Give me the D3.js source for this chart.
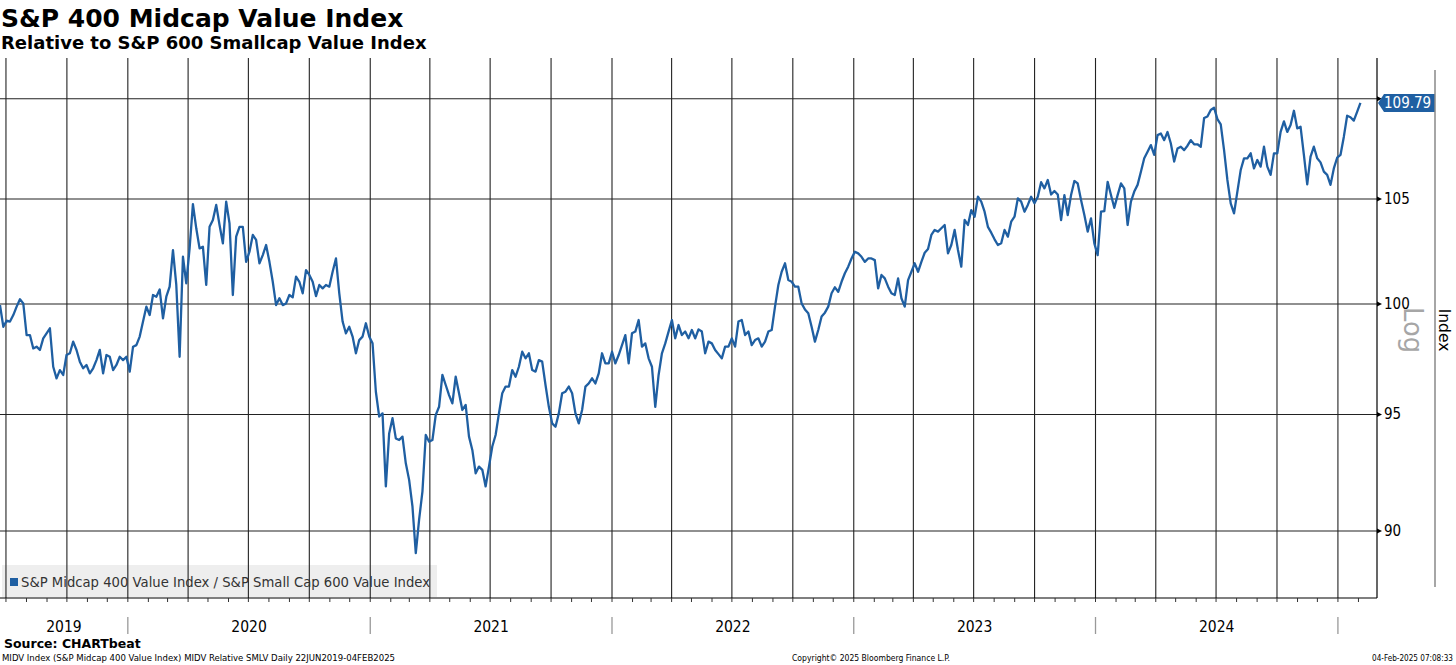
<!DOCTYPE html>
<html>
<head>
<meta charset="utf-8">
<script src="https://cdn.jsdelivr.net/npm/d3@7"></script>
<style>
body { margin: 0; background: #fff; }
svg { display: block; font-family: "DejaVu Sans", Verdana, sans-serif; }
</style>
</head>
<body>
<svg id="chart" width="1456" height="665"></svg>
<script>
// series: S&P 400 Midcap Value / S&P 600 Smallcap Value, evenly sampled from startDate to endDate
var startDate = "2019-06-22", endDate = "2025-02-04";
var axisStart = "2019-06-22", axisEnd = "2025-03-01";
var ratioValues = [
    99.95, 98.95, 99.23, 99.19, 99.49, 99.88, 100.22, 100.03, 98.57, 98.57,
    97.96, 98.04, 97.89, 98.42, 98.65, 98.88, 97.13, 96.61, 96.98, 96.76,
    97.66, 97.74, 98.27, 97.89, 97.36, 97.06, 97.21, 96.83, 97.06, 97.43,
    97.89, 96.83, 97.66, 97.58, 96.98, 97.21, 97.58, 97.43, 97.58, 96.91,
    98.04, 98.11, 98.50, 99.19, 99.88, 99.49, 100.42, 100.34, 100.68, 99.34,
    100.34, 100.81, 102.54, 100.89, 97.58, 102.22, 100.97, 102.62, 104.75, 103.58,
    102.62, 102.70, 100.89, 103.65, 103.98, 104.71, 103.74, 102.86, 104.87, 103.82,
    100.42, 103.18, 103.65, 103.65, 101.98, 102.46, 103.26, 103.02, 101.91, 102.30,
    102.78, 101.98, 101.04, 99.95, 100.27, 99.95, 100.03, 100.42, 100.31, 101.28,
    101.04, 100.50, 101.59, 101.36, 101.04, 100.37, 100.89, 100.73, 100.89, 100.81,
    101.51, 102.14, 100.50, 99.19, 98.65, 98.95, 98.50, 97.74, 98.34, 98.50,
    99.11, 98.50, 98.19, 96.01, 94.91, 95.05, 91.88, 94.17, 94.84, 93.95,
    93.88, 94.03, 92.87, 92.16, 91.03, 89.08, 90.47, 91.66, 94.10, 93.81,
    93.88, 94.98, 95.34, 96.76, 96.31, 95.86, 95.49, 96.68, 95.94, 95.20,
    95.42, 94.03, 93.45, 92.44, 92.73, 92.59, 91.88, 92.73, 93.60, 94.10,
    95.05, 95.94, 96.24, 96.24, 96.98, 96.68, 97.13, 97.81, 97.51, 97.74,
    96.98, 96.91, 97.43, 97.36, 96.31, 95.34, 94.61, 94.46, 95.05, 95.94,
    96.01, 96.24, 95.94, 95.05, 94.61, 95.20, 96.24, 96.38, 96.61, 96.38,
    96.83, 97.74, 97.28, 97.28, 97.81, 97.28, 97.66, 98.11, 98.57, 97.28,
    98.65, 98.73, 99.26, 98.04, 98.19, 97.51, 97.13, 95.34, 96.76, 97.74,
    98.19, 98.73, 99.26, 98.42, 99.03, 98.57, 98.73, 98.42, 98.80, 98.42,
    98.83, 98.73, 97.74, 98.27, 98.19, 97.89, 97.70, 97.51, 98.04, 98.04,
    98.42, 98.04, 99.19, 99.26, 98.57, 98.73, 98.11, 98.34, 98.42, 98.04,
    98.27, 98.73, 98.80, 99.88, 100.89, 101.51, 101.91, 101.12, 101.04, 100.81,
    100.81, 100.03, 99.75, 99.57, 98.95, 98.27, 98.80, 99.42, 99.60, 99.88,
    100.50, 100.78, 100.57, 101.04, 101.44, 101.75, 102.14, 102.46, 102.38, 102.22,
    101.98, 102.14, 102.14, 102.06, 100.73, 101.36, 101.20, 100.81, 100.50, 100.42,
    101.20, 100.27, 99.88, 101.12, 101.51, 101.91, 101.51, 101.98, 102.41, 102.59,
    103.26, 103.50, 103.42, 103.58, 103.74, 102.38, 102.78, 103.50, 102.54, 101.75,
    103.98, 103.74, 104.46, 104.14, 105.11, 104.87, 104.38, 103.65, 103.37, 103.05,
    102.78, 102.86, 103.50, 103.18, 103.90, 104.14, 105.03, 104.87, 104.38, 104.71,
    105.11, 104.79, 105.11, 105.82, 105.52, 105.93, 105.22, 105.39, 105.22, 103.98,
    105.19, 104.22, 105.19, 105.88, 105.76, 104.95, 104.22, 103.42, 104.06, 102.86,
    102.30, 104.38, 104.41, 105.84, 105.19, 104.57, 105.19, 105.76, 105.52, 103.74,
    104.87, 105.36, 105.69, 106.34, 107.00, 107.33, 107.66, 107.17, 108.16, 108.24,
    107.91, 108.32, 107.74, 106.84, 107.49, 107.58, 107.41, 107.63, 107.91, 107.70,
    107.70, 107.58, 109.02, 109.10, 109.43, 109.55, 108.97, 108.70, 107.41, 105.93,
    104.79, 104.30, 105.36, 106.42, 107.00, 107.00, 107.25, 106.50, 106.92, 106.59,
    107.58, 106.59, 106.18, 107.25, 107.25, 108.32, 108.85, 108.32, 108.67, 109.39,
    108.50, 108.58, 107.17, 105.72, 107.09, 107.58, 107.00, 106.80, 106.34, 106.18,
    105.69, 106.50, 107.03, 107.17, 108.07, 109.14, 109.06, 108.89, 109.33, 109.79
];
var yTicks = [90, 95, 100, 105, 110];
var yDomain = [87.24, 112.0];
var yearLabels = ["2019", "2020", "2021", "2022", "2023", "2024"];
var lastLabel = "109.79";

var titleText = "S&P 400 Midcap Value Index";
var subtitleText = "Relative to S&P 600 Smallcap Value Index";
var legendText = "S&P Midcap 400 Value Index / S&P Small Cap 600 Value Index";
var sourceText = "Source: CHARTbeat";
var footLeft = "MIDV Index (S&P Midcap 400 Value Index) MIDV Relative SMLV  Daily 22JUN2019-04FEB2025";
var footMid = "Copyright\u00a9 2025 Bloomberg Finance L.P.";
var footRight = "04-Feb-2025 07:08:33";

var lineColor = "#1f5fa2";
var plot = {left: 0, right: 1377, top: 60, bottom: 598};
var narrow = "'DejaVu Sans Condensed', 'DejaVu Sans', sans-serif";

var svg = d3.select("#chart");
var parseDay = d3.utcParse("%Y-%m-%d");

var x = d3.scaleUtc()
    .domain([parseDay(axisStart), parseDay(axisEnd)])
    .range([plot.left, plot.right]);
var y = d3.scaleLog()
    .domain(yDomain)
    .range([plot.bottom, plot.top]);

var t0 = parseDay(startDate), t1 = parseDay(endDate);
var series = ratioValues.map(function(v, i) {
    return {date: new Date(+t0 + (t1 - t0) * i / (ratioValues.length - 1)), value: v};
});

// ---- titles
svg.append("text").attr("x", 1).attr("y", 27)
    .style("font-weight", "bold").style("font-size", "25px").text(titleText);
svg.append("text").attr("x", 1).attr("y", 49)
    .style("font-weight", "bold").style("font-size", "18px").text(subtitleText);

// ---- legend box (under the grid)
svg.append("rect").attr("x", 2).attr("y", 565).attr("width", 435).attr("height", 32)
    .attr("fill", "#eeeeee");

// ---- grid
var quarters = d3.utcMonth.every(3).range(x.domain()[0], x.domain()[1]);
svg.append("g").selectAll("line").data(quarters).join("line")
    .attr("x1", function(d) { return x(d); }).attr("x2", function(d) { return x(d); })
    .attr("y1", plot.top - 2).attr("y2", plot.bottom)
    .attr("stroke", "#222").attr("stroke-width", 1.1);

svg.append("g").selectAll("line").data(yTicks).join("line")
    .attr("x1", plot.left).attr("x2", plot.right)
    .attr("y1", function(d) { return y(d); }).attr("y2", function(d) { return y(d); })
    .attr("stroke", "#222").attr("stroke-width", 1.1);

// ---- axes
svg.append("line").attr("x1", plot.right).attr("x2", plot.right)
    .attr("y1", plot.top - 2).attr("y2", plot.bottom)
    .attr("stroke", "#000").attr("stroke-width", 1.2);
svg.append("line").attr("x1", plot.left).attr("x2", plot.right)
    .attr("y1", plot.bottom).attr("y2", plot.bottom)
    .attr("stroke", "#000").attr("stroke-width", 1.2);

var months = d3.utcMonth.range(x.domain()[0], x.domain()[1]);
svg.append("g").selectAll("line").data(months).join("line")
    .attr("x1", function(d) { return x(d); }).attr("x2", function(d) { return x(d); })
    .attr("y1", plot.bottom).attr("y2", plot.bottom + 4)
    .attr("stroke", "#333").attr("stroke-width", 1);

// year separators + labels
var years = d3.utcYear.range(x.domain()[0], x.domain()[1]);
svg.append("g").selectAll("line").data(years).join("line")
    .attr("x1", function(d) { return x(d); }).attr("x2", function(d) { return x(d); })
    .attr("y1", 617).attr("y2", 634)
    .attr("stroke", "#999").attr("stroke-width", 1.3);

svg.append("g").selectAll("text").data(yearLabels).join("text")
    .attr("x", function(d) {
        var a = Math.max(+x.domain()[0], Date.UTC(+d, 0, 1));
        var b = Math.min(+x.domain()[1], Date.UTC(+d + 1, 0, 1));
        return (x(new Date(a)) + x(new Date(b))) / 2;
    })
    .attr("y", 632)
    .attr("text-anchor", "middle")
    .style("font-family", narrow).style("font-size", "15.5px")
    .text(function(d) { return d; });

// right axis tick markers + labels
var yTickMarks = svg.append("g");
yTickMarks.selectAll("path").data(yTicks).join("path")
    .attr("d", function(d) {
        var yy = y(d);
        return "M" + plot.right + "," + (yy - 2.5) + "L" + (plot.right + 5) + "," + yy + "L" + plot.right + "," + (yy + 2.5) + "Z";
    })
    .attr("fill", "#000");
yTickMarks.selectAll("text").data(yTicks.filter(function(d) { return d < 110; })).join("text")
    .attr("x", plot.right + 7).attr("y", function(d) { return y(d) + 5; })
    .style("font-family", narrow).style("font-size", "15px")
    .text(function(d) { return d; });

// ---- data line
var line = d3.line()
    .x(function(d) { return x(d.date); })
    .y(function(d) { return y(d.value); });
svg.append("path").datum(series)
    .attr("d", line)
    .attr("fill", "none")
    .attr("stroke", lineColor)
    .attr("stroke-width", 2.3)
    .attr("stroke-linejoin", "round");

// last value tag
var lastY = y(series[series.length - 1].value);
svg.append("path")
    .attr("d", "M" + (plot.right + 1) + "," + lastY +
        "L" + (plot.right + 7) + "," + (lastY - 9) +
        "L1435," + (lastY - 9) + "L1435," + (lastY + 9) +
        "L" + (plot.right + 7) + "," + (lastY + 9) + "Z")
    .attr("fill", lineColor);
svg.append("text").attr("x", plot.right + 7).attr("y", lastY + 5.5)
    .attr("fill", "#fff")
    .style("font-family", narrow).style("font-size", "15px")
    .text(lastLabel);

// right-side decorations
svg.append("line").attr("x1", 1435).attr("x2", 1435).attr("y1", 70).attr("y2", 587)
    .attr("stroke", "#888").attr("stroke-width", 1.5);
svg.append("text").attr("transform", "translate(1404,330) rotate(90)")
    .attr("text-anchor", "middle").attr("fill", "#a6a6a6")
    .style("font-size", "27px").attr("textLength", 46).attr("lengthAdjust", "spacingAndGlyphs")
    .text("Log");
svg.append("text").attr("transform", "translate(1439,330) rotate(90)")
    .attr("text-anchor", "middle").attr("fill", "#000")
    .style("font-size", "15.5px")
    .text("Index");

// legend content
svg.append("rect").attr("x", 10).attr("y", 578).attr("width", 8).attr("height", 8)
    .attr("fill", lineColor);
svg.append("text").attr("x", 21).attr("y", 587)
    .attr("fill", "#333").style("font-size", "13.5px")
    .attr("textLength", 409).attr("lengthAdjust", "spacingAndGlyphs")
    .text(legendText);

// ---- footer
svg.append("text").attr("x", 4).attr("y", 648)
    .style("font-weight", "bold").style("font-size", "12.5px").text(sourceText);
svg.append("text").attr("x", 2).attr("y", 661)
    .style("font-family", narrow).style("font-size", "8.5px")
    .attr("textLength", 393).attr("lengthAdjust", "spacingAndGlyphs")
    .text(footLeft);
svg.append("text").attr("x", 792).attr("y", 661)
    .style("font-family", narrow).style("font-size", "8.5px")
    .attr("textLength", 158).attr("lengthAdjust", "spacingAndGlyphs")
    .text(footMid);
svg.append("text").attr("x", 1453).attr("y", 661).attr("text-anchor", "end")
    .style("font-family", narrow).style("font-size", "8.5px")
    .attr("textLength", 81).attr("lengthAdjust", "spacingAndGlyphs")
    .text(footRight);
</script>
</body>
</html>
